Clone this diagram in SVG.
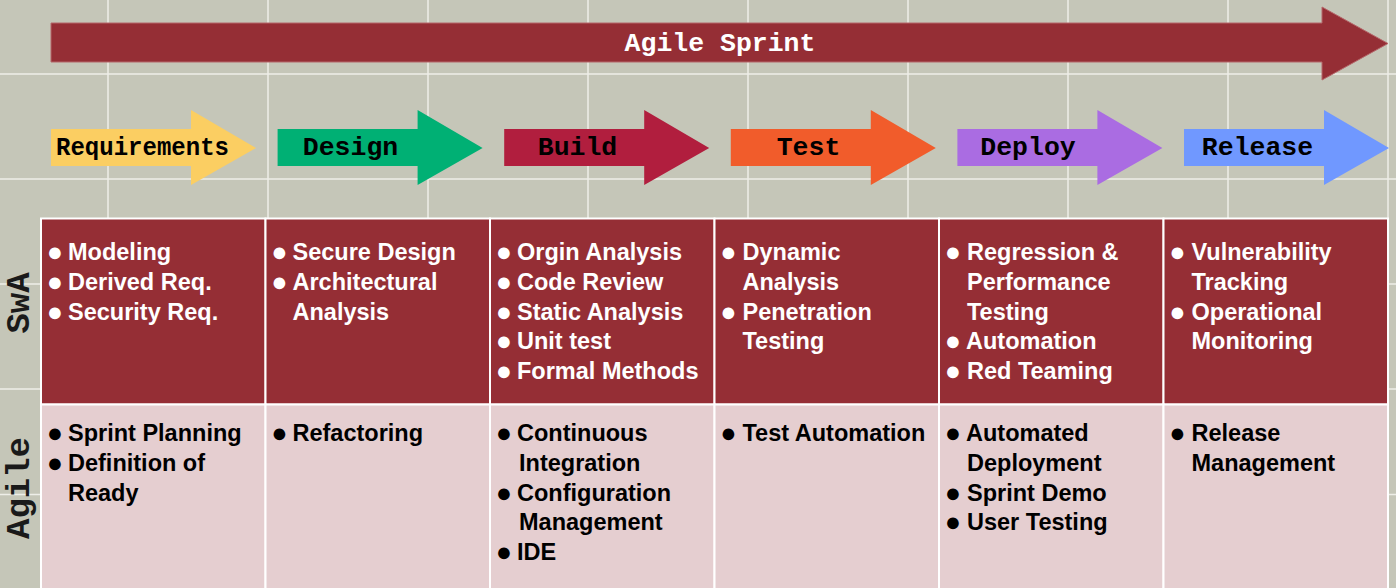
<svg xmlns="http://www.w3.org/2000/svg" width="1396" height="588" viewBox="0 0 1396 588">
<style>
.grid line{stroke:#EEEEE8;stroke-width:1.5}
.mono{font-family:"Liberation Mono","Courier New",monospace;font-weight:bold}
.ah{font-size:26.5px;fill:#000;text-anchor:middle}
.big{font-size:26.5px;fill:#fff;text-anchor:middle}
.row{font-size:34px;fill:#1a1a1a;text-anchor:middle}
.swa{fill:#952E35;stroke:#fff;stroke-width:2}
.agl{fill:#E5CED0;stroke:#fff;stroke-width:2}
.t{font-family:"Liberation Sans",Arial,sans-serif;font-weight:bold;font-size:23.5px}
.w{fill:#fff}
.k{fill:#000}
.b{text-anchor:middle;font-size:27px}
</style>
<rect width="1396" height="588" fill="#C5C6B8"/>
<g class="grid">
<line x1="108" y1="0" x2="108" y2="588"/><line x1="268" y1="0" x2="268" y2="588"/><line x1="428" y1="0" x2="428" y2="588"/><line x1="588" y1="0" x2="588" y2="588"/><line x1="748" y1="0" x2="748" y2="588"/><line x1="908" y1="0" x2="908" y2="588"/><line x1="1068" y1="0" x2="1068" y2="588"/><line x1="1228" y1="0" x2="1228" y2="588"/><line x1="1388" y1="0" x2="1388" y2="588"/>
<line x1="0" y1="74" x2="1396" y2="74"/><line x1="0" y1="179" x2="1396" y2="179"/><line x1="0" y1="284" x2="1396" y2="284"/><line x1="0" y1="389" x2="1396" y2="389"/><line x1="0" y1="494.5" x2="1396" y2="494.5"/>
</g>
<g id="sprint">
<polygon points="51,23 1322,23 1322,7 1388,43.5 1322,80 1322,62 51,62" fill="#952E35" stroke="#B5666A" stroke-width="1"/>
<text class="mono big" x="720" y="51">Agile Sprint</text>
</g>
<g id="requirements">
<polygon points="51,129 191,129 191,110 256,148 191,185 191,166 51,166" fill="#FBCE62"/>
<text class="mono ah" x="142.5" y="155" textLength="173" lengthAdjust="spacingAndGlyphs">Requirements</text>
</g>
<g id="design">
<polygon points="277.6,129 417.6,129 417.6,110 482.6,148 417.6,185 417.6,166 277.6,166" fill="#00B074"/>
<text class="mono ah" x="350.5" y="155">Design</text>
</g>
<g id="build">
<polygon points="504.2,129 644.2,129 644.2,110 709.2,148 644.2,185 644.2,166 504.2,166" fill="#B11E3E"/>
<text class="mono ah" x="577.5" y="155">Build</text>
</g>
<g id="test">
<polygon points="730.8,129 870.8,129 870.8,110 935.8,148 870.8,185 870.8,166 730.8,166" fill="#F15C2B"/>
<text class="mono ah" x="808.5" y="155">Test</text>
</g>
<g id="deploy">
<polygon points="957.4,129 1097.4,129 1097.4,110 1162.4,148 1097.4,185 1097.4,166 957.4,166" fill="#AA6CE2"/>
<text class="mono ah" x="1028" y="155">Deploy</text>
</g>
<g id="release">
<polygon points="1184,129 1324,129 1324,110 1389,148 1324,185 1324,166 1184,166" fill="#7098FF"/>
<text class="mono ah" x="1257.5" y="155">Release</text>
</g>
<g id="row-labels">
<text class="mono row" transform="translate(29,303) rotate(-90)">SwA</text>
<text class="mono row" transform="translate(29,488) rotate(-90)">Agile</text>
</g>
<g id="swa-requirements">
<rect class="swa" x="41" y="218.5" width="224.5" height="186"/>
<text class="t w b" x="55" y="261">●</text><text class="t w" x="68" y="260">Modeling</text>
<text class="t w b" x="55" y="290.8">●</text><text class="t w" x="68" y="289.8">Derived Req.</text>
<text class="t w b" x="55" y="320.6">●</text><text class="t w" x="68" y="319.6">Security Req.</text>
</g>
<g id="swa-design">
<rect class="swa" x="265.5" y="218.5" width="224.5" height="186"/>
<text class="t w b" x="279.5" y="261">●</text><text class="t w" x="292.5" y="260">Secure Design</text>
<text class="t w b" x="279.5" y="290.8">●</text><text class="t w" x="292.5" y="289.8">Architectural</text>
<text class="t w" x="292.5" y="319.6">Analysis</text>
</g>
<g id="swa-build">
<rect class="swa" x="490" y="218.5" width="224.5" height="186"/>
<text class="t w b" x="504" y="261">●</text><text class="t w" x="517" y="260">Orgin Analysis</text>
<text class="t w b" x="504" y="290.8">●</text><text class="t w" x="517" y="289.8">Code Review</text>
<text class="t w b" x="504" y="320.6">●</text><text class="t w" x="517" y="319.6">Static Analysis</text>
<text class="t w b" x="504" y="350.4">●</text><text class="t w" x="517" y="349.4">Unit test</text>
<text class="t w b" x="504" y="380.2">●</text><text class="t w" x="517" y="379.2">Formal Methods</text>
</g>
<g id="swa-test">
<rect class="swa" x="714.5" y="218.5" width="224.5" height="186"/>
<text class="t w b" x="728.5" y="261">●</text><text class="t w" x="742.5" y="260">Dynamic</text>
<text class="t w" x="742.5" y="289.8">Analysis</text>
<text class="t w b" x="728.5" y="320.6">●</text><text class="t w" x="742.5" y="319.6">Penetration</text>
<text class="t w" x="742.5" y="349.4">Testing</text>
</g>
<g id="swa-deploy">
<rect class="swa" x="939" y="218.5" width="224.5" height="186"/>
<text class="t w b" x="953" y="261">●</text><text class="t w" x="967" y="260">Regression &amp;</text>
<text class="t w" x="967" y="289.8">Performance</text>
<text class="t w" x="967" y="319.6">Testing</text>
<text class="t w b" x="953" y="350.4">●</text><text class="t w" x="966" y="349.4">Automation</text>
<text class="t w b" x="953" y="380.2">●</text><text class="t w" x="967" y="379.2">Red Teaming</text>
</g>
<g id="swa-release">
<rect class="swa" x="1163.5" y="218.5" width="224.5" height="186"/>
<text class="t w b" x="1177.5" y="261">●</text><text class="t w" x="1191.5" y="260">Vulnerability</text>
<text class="t w" x="1191.5" y="289.8">Tracking</text>
<text class="t w b" x="1177.5" y="320.6">●</text><text class="t w" x="1191.5" y="319.6">Operational</text>
<text class="t w" x="1191.5" y="349.4">Monitoring</text>
</g>
<g id="agile-requirements">
<rect class="agl" x="41" y="404.5" width="224.5" height="190"/>
<text class="t k b" x="55" y="442">●</text><text class="t k" x="68" y="441">Sprint Planning</text>
<text class="t k b" x="55" y="471.8">●</text><text class="t k" x="68" y="470.8">Definition of</text>
<text class="t k" x="68" y="500.6">Ready</text>
</g>
<g id="agile-design">
<rect class="agl" x="265.5" y="404.5" width="224.5" height="190"/>
<text class="t k b" x="279.5" y="442">●</text><text class="t k" x="292.5" y="441">Refactoring</text>
</g>
<g id="agile-build">
<rect class="agl" x="490" y="404.5" width="224.5" height="190"/>
<text class="t k b" x="504" y="442">●</text><text class="t k" x="517" y="441">Continuous</text>
<text class="t k" x="519" y="470.8">Integration</text>
<text class="t k b" x="504" y="501.6">●</text><text class="t k" x="517" y="500.6">Configuration</text>
<text class="t k" x="519" y="530.4">Management</text>
<text class="t k b" x="504" y="561.2">●</text><text class="t k" x="517" y="560.2">IDE</text>
</g>
<g id="agile-test">
<rect class="agl" x="714.5" y="404.5" width="224.5" height="190"/>
<text class="t k b" x="728.5" y="442">●</text><text class="t k" x="742.5" y="441">Test Automation</text>
</g>
<g id="agile-deploy">
<rect class="agl" x="939" y="404.5" width="224.5" height="190"/>
<text class="t k b" x="953" y="442">●</text><text class="t k" x="966" y="441">Automated</text>
<text class="t k" x="967" y="470.8">Deployment</text>
<text class="t k b" x="953" y="501.6">●</text><text class="t k" x="967" y="500.6">Sprint Demo</text>
<text class="t k b" x="953" y="531.4">●</text><text class="t k" x="967" y="530.4">User Testing</text>
</g>
<g id="agile-release">
<rect class="agl" x="1163.5" y="404.5" width="224.5" height="190"/>
<text class="t k b" x="1177.5" y="442">●</text><text class="t k" x="1191.5" y="441">Release</text>
<text class="t k" x="1191.5" y="470.8">Management</text>
</g>
</svg>
